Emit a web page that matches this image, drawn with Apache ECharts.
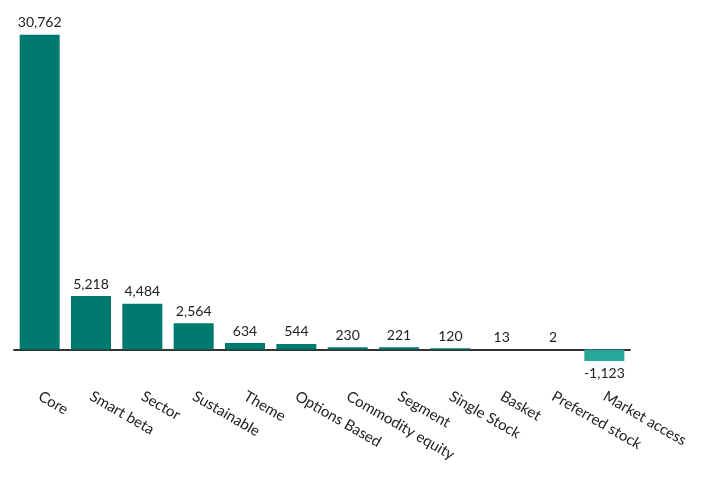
<!DOCTYPE html>
<html>
<head>
<meta charset="utf-8">
<script src="https://cdn.jsdelivr.net/npm/echarts@6/dist/echarts.min.js"></script>
<style>
  html, body { margin: 0; padding: 0; background: #fff; }
  #chart { width: 704px; height: 480px; }
</style>
</head>
<body>
<div id="chart"></div>
<script>
var categories = ['Core', 'Smart beta', 'Sector', 'Sustainable', 'Theme', 'Options Based',
    'Commodity equity', 'Segment', 'Single Stock', 'Basket', 'Preferred stock', 'Market access'];
var flows = [30762, 5218, 4484, 2564, 634, 544, 230, 221, 120, 13, 2, -1123];

var posColor = '#00796f';
var negColor = '#27a699';

var barData = flows.map(function (v) {
    return {
        value: v,
        itemStyle: { color: v < 0 ? negColor : posColor },
        label: { position: v < 0 ? 'bottom' : 'top' }
    };
});

var option = {
    animation: false,
    textStyle: { fontFamily: 'Lato, sans-serif' },
    grid: { left: 14, right: 74, top: 22, height: 348 },
    xAxis: {
        type: 'category',
        data: categories,
        axisLine: { onZero: true, lineStyle: { color: '#333', width: 2 } },
        axisTick: { show: false },
        axisLabel: {
            interval: 0,
            rotate: -30,
            margin: 25,
            fontSize: 15,
            color: '#222'
        }
    },
    yAxis: {
        type: 'value',
        min: -2000,
        max: 32000,
        show: false,
        splitLine: { show: false }
    },
    series: [{
        type: 'bar',
        data: barData,
        barWidth: 40,
        label: {
            show: true,
            fontSize: 14,
            color: '#222',
            distance: 5,
            formatter: function (p) {
                return p.value.toLocaleString('en-US');
            }
        }
    }]
};

var myChart = echarts.init(document.getElementById('chart'));
myChart.setOption(option);
</script>
</body>
</html>
